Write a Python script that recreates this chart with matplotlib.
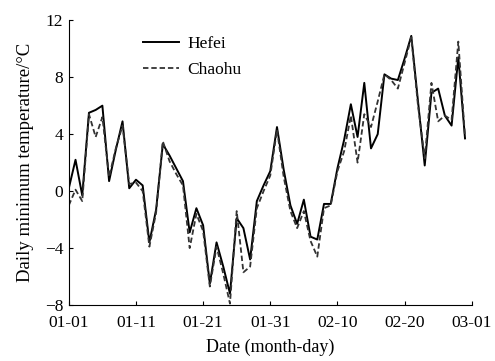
import numpy as np
import matplotlib.pyplot as plt

plt.rcParams['font.family'] = ['Liberation Serif', 'DejaVu Serif']

# daily minimum temperature, Jan 1 .. Feb 29
hefei = [0.2, 2.2, -0.3, 5.5, 5.7, 6.0, 0.7, 2.9, 4.9, 0.2,
         0.8, 0.4, -3.6, -1.3, 3.3, 2.5, 1.6, 0.7, -2.9, -1.2,
         -2.4, -6.5, -3.6, -5.3, -7.2, -1.9, -2.6, -4.8, -0.7, 0.4,
         1.4, 4.5, 1.5, -1.0, -2.3, -0.6, -3.2, -3.4, -0.9, -0.9,
         1.6, 3.6, 6.1, 3.8, 7.6, 3.0, 4.0, 8.2, 7.9, 7.8,
         9.3, 10.9, 6.3, 1.8, 6.9, 7.2, 5.3, 4.6, 9.4, 3.7]
chaohu = [-1.0, 0.1, -0.7, 5.4, 3.8, 5.2, 1.0, 3.0, 4.6, 0.5,
          0.6, 0.0, -3.9, -1.5, 3.5, 2.1, 1.2, 0.4, -4.0, -1.6,
          -2.8, -6.7, -3.9, -5.8, -7.9, -1.4, -5.7, -5.3, -1.2, 0.0,
          1.1, 4.3, 1.0, -1.4, -2.6, -1.4, -3.5, -4.6, -1.2, -1.0,
          1.4, 2.8, 5.3, 2.0, 5.4, 4.5, 6.3, 8.2, 7.8, 7.2,
          9.0, 10.8, 6.0, 2.3, 7.6, 4.9, 5.3, 5.0, 10.5, 3.8]
tick_labels = ['01-01', '01-11', '01-21', '01-31', '02-10', '02-20', '03-01']

days = np.arange(len(hefei))

fig = plt.figure(figsize=(4.95, 3.61), dpi=100)
ax = fig.add_axes([0.139, 0.155, 0.814, 0.789])

ax.plot(days, hefei, color='black', lw=1.4, label='Hefei')
ax.plot(days, chaohu, color='#333333', lw=1.3, dashes=(3, 1.6), label='Chaohu')

ax.set_xlim(0, 60)
ax.set_ylim(-8, 12)
ax.set_xticks(np.arange(0, 61, 10))
ax.set_xticklabels(tick_labels)
ax.set_yticks(np.arange(-8, 13, 4))
ax.tick_params(direction='in', length=3, labelsize=12.5)
ax.tick_params(axis='x', pad=7)
ax.tick_params(axis='y', pad=4)
for s in ['top', 'right']:
    ax.spines[s].set_visible(False)

ax.set_xlabel('Date (month-day)', fontsize=13, labelpad=6)
ax.set_ylabel('Daily minimum temperature/°C', fontsize=13.5, labelpad=8)

ax.legend(loc='upper left', bbox_to_anchor=(0.183, 0.945), frameon=False,
          borderpad=0, borderaxespad=0, handlelength=2.1, handletextpad=0.5,
          labelspacing=0.55, fontsize=12.5)

fig.savefig('out.png', dpi=100)
